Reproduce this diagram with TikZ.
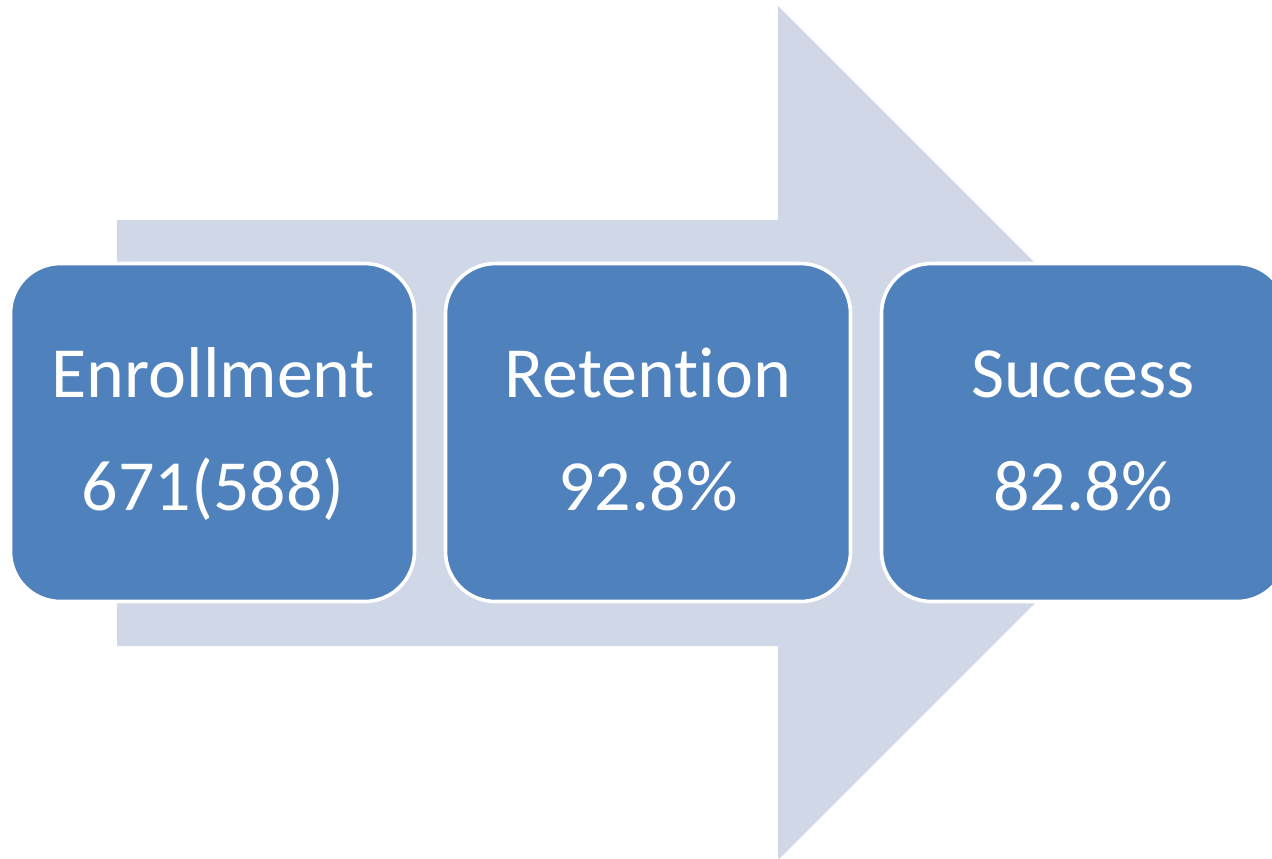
\documentclass[tikz,border=0pt]{standalone}
\usepackage{fontspec}
\setmainfont{Carlito}[RawFeature={-liga}]
\definecolor{arrowgray}{HTML}{D0D8E8}
\definecolor{boxblue}{HTML}{4F81BD}
\begin{document}
\begin{tikzpicture}[x=0.5pt,y=-0.5pt,
  stagebox/.style={fill=boxblue,draw=white,line width=1.8pt,rounded corners=25pt},
  stagetext/.style={text=white,anchor=base,inner sep=0pt,font=\fontsize{36}{43}\selectfont}]
\useasboundingbox (0,0) rectangle (1272,858);
\clip (0,0) rectangle (1272,858);
% big background arrow
\fill[arrowgray] (117,220) -- (778,220) -- (778,6) -- (1205,433) -- (778,860) -- (778,646) -- (117,646) -- cycle;
% boxes
\draw[stagebox] (10.5,263.5) rectangle (414.5,601.5);
\draw[stagebox] (445.5,263.5) rectangle (850.5,601.5);
\draw[stagebox] (881.5,263.5) rectangle (1287,601.5);
% texts
\node[stagetext] (t1a) at (213,397) {Enrollment};
\node[stagetext] (t1b) at (213,510) {671(588)};
\node[stagetext] (t2a) at (648,397) {Retention};
\node[stagetext] (t2b) at (648,510) {92.8\%};
\node[stagetext] (t3a) at (1083,397) {Success};
\node[stagetext] (t3b) at (1083,510) {82.8\%};
\end{tikzpicture}
\end{document}
